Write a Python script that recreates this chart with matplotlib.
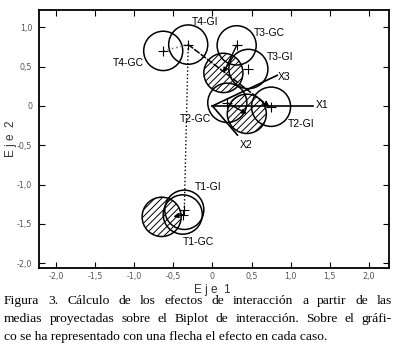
import matplotlib
matplotlib.use('Agg')
import matplotlib.pyplot as plt
from matplotlib.patches import Circle
from matplotlib.ticker import FuncFormatter

# ============================================================
# DATA
# ============================================================
R = 0.25  # confidence circle radius

# plain circles (group means) with a "+" at the centre
open_names = ['T4-GC', 'T4-GI', 'T3-GC', 'T3-GI', 'T2-GC', 'T2-GI', 'T1-GI', 'T1-GC']
open_x = [-0.63, -0.31, 0.31, 0.46, 0.19, 0.75, -0.36, -0.38]
open_y = [0.70, 0.78, 0.77, 0.47, 0.04, -0.01, -1.32, -1.38]

# hatched circles (projected means)
hatch_x = [0.14, 0.44, -0.65]
hatch_y = [0.42, -0.10, -1.41]

# text labels of the circles
label_x = [-1.07, -0.09, 0.73, 0.86, -0.22, 1.14, -0.06, -0.18]
label_y = [0.55, 1.07, 0.93, 0.62, -0.17, -0.23, -1.03, -1.73]

# variable vectors from the origin
var_names = ['X1', 'X2', 'X3']
var_x = [1.29, 0.32, 0.83]
var_y = [0.0, -0.37, 0.39]
var_lx = [1.41, 0.43, 0.92]
var_ly = [0.01, -0.50, 0.37]

xticks = [-2.0, -1.5, -1.0, -0.5, 0.0, 0.5, 1.0, 1.5, 2.0]
yticks = [-2.0, -1.5, -1.0, -0.5, 0.0, 0.5, 1.0]

caption = [
    "Figura 3. Cálculo de los efectos de interacción a partir de las",
    "medias proyectadas sobre el Biplot de interacción. Sobre el gráfi-",
    "co se ha representado con una flecha el efecto en cada caso.",
]

# ============================================================
# FIGURE
# ============================================================
fig = plt.figure(figsize=(3.99, 3.53), dpi=100)
ax = fig.add_axes([0.0977, 0.2408, 0.8773, 0.7309])
ax.set_xlim(-2.22, 2.26)
ax.set_ylim(-2.06, 1.22)

plt.rcParams['hatch.linewidth'] = 0.7

for hx, hy in zip(hatch_x, hatch_y):
    ax.add_patch(Circle((hx, hy), R, facecolor='white', edgecolor='black',
                        hatch='/////', lw=1.1, zorder=2))
for ox, oy in zip(open_x, open_y):
    ax.add_patch(Circle((ox, oy), R, facecolor='none', edgecolor='black',
                        lw=1.1, zorder=3))
ax.plot(open_x, open_y, '+', color='black', ms=7, mew=0.8, zorder=5)

# connecting lines
ax.plot([open_x[0], open_x[1]], [open_y[0], open_y[1]], ':', color='gray', lw=1.2, zorder=4)
ax.plot([open_x[1], open_x[6]], [open_y[1], open_y[6]], ':', color='black', lw=1.0, zorder=4)
ax.annotate('', xy=(open_x[5] - 0.02, open_y[5]), xytext=(open_x[1], open_y[1]),
            arrowprops=dict(arrowstyle='-|>', ls='--', lw=1.1, color='black',
                            mutation_scale=7, shrinkA=0, shrinkB=0), zorder=4)
# interaction effect arrows
for (sx, sy), (ex, ey) in [((open_x[2], open_y[2]), (hatch_x[0], hatch_y[0])),
                           ((open_x[4], open_y[4]), (hatch_x[1], hatch_y[1])),
                           ((open_x[7], open_y[7]), (hatch_x[2] + 0.15, hatch_y[2]))]:
    ax.annotate('', xy=(ex, ey), xytext=(sx, sy),
                arrowprops=dict(arrowstyle='-|>', lw=1.0, color='black',
                                mutation_scale=7, shrinkA=0, shrinkB=0), zorder=4)

# variable vectors
for vx, vy in zip(var_x, var_y):
    ax.plot([0, vx], [0, vy], '-', color='black', lw=1.2, zorder=4)
for name, lx, ly in zip(var_names, var_lx, var_ly):
    ax.text(lx, ly, name, fontsize=7.5, ha='center', va='center',
            family='Liberation Sans')
for name, lx, ly in zip(open_names, label_x, label_y):
    ax.text(lx, ly, name, fontsize=7.5, ha='center', va='center',
            family='Liberation Sans')

# axes styling
fmt = FuncFormatter(lambda v, p: '0' if abs(v) < 1e-9 else f'{v:.1f}'.replace('.', ','))
ax.set_xticks(xticks)
ax.set_yticks(yticks)
ax.xaxis.set_major_formatter(fmt)
ax.yaxis.set_major_formatter(fmt)
ax.tick_params(direction='in', length=4, width=0.8, top=True, right=True,
               labelsize=5.8, labelcolor='#555555', pad=5)
ax.tick_params(axis='x', pad=3)
for sp in ax.spines.values():
    sp.set_linewidth(1.3)

fig.text(0.531, 1 - 290 / 353, 'E j e  1', fontsize=8.5, color='#333333',
         ha='center', va='center', family='Liberation Sans')
fig.text(11 / 399, 1 - 139 / 353, 'E j e  2', fontsize=8.5, color='#333333',
         ha='center', va='center', rotation=90, family='Liberation Sans')

# ============================================================
# CAPTION (justified, serif)
# ============================================================
x0, x1 = 4, 392
line_y = [301, 319, 337]
cap_fs = 9.7
fig.canvas.draw()
renderer = fig.canvas.get_renderer()
for i, (line, py) in enumerate(zip(caption, line_y)):
    yf = 1 - py / 353
    if i == len(caption) - 1:
        fig.text(x0 / 399, yf, line, fontsize=cap_fs, family='Liberation Serif',
                 ha='left', va='center')
        continue
    words = line.split(' ')
    widths = []
    for w in words:
        t = fig.text(0, 0, w, fontsize=cap_fs, family='Liberation Serif')
        widths.append(t.get_window_extent(renderer).width)
        t.remove()
    gap = (x1 - x0 - sum(widths)) / (len(words) - 1)
    cx = x0
    for w, wd in zip(words, widths):
        fig.text(cx / 399, yf, w, fontsize=cap_fs, family='Liberation Serif',
                 ha='left', va='center')
        cx += wd + gap

fig.savefig('out.png', dpi=100)
